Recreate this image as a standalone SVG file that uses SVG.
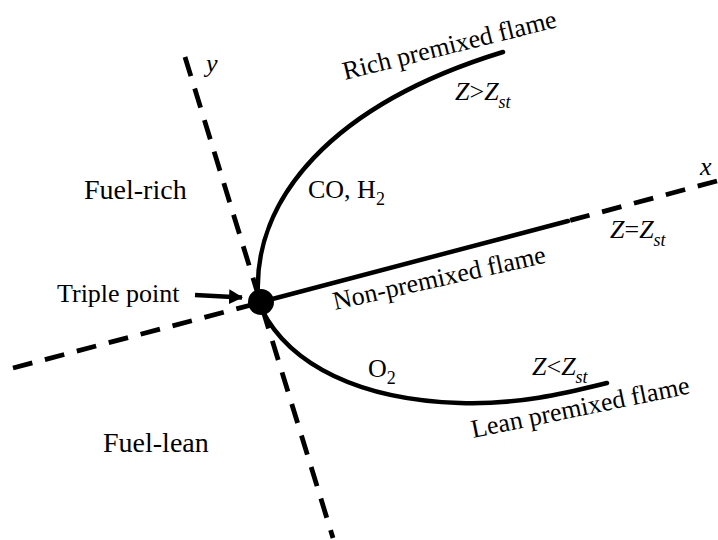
<svg xmlns="http://www.w3.org/2000/svg" width="718" height="540" viewBox="0 0 718 540">
<defs>
<style>
.t{font-family:"Liberation Serif","Times New Roman",serif;font-size:26px;fill:#000}
.big{font-size:28px}
.it{font-style:italic}
.sub{font-size:18px;font-style:italic}
.dash{fill:none;stroke:#000;stroke-width:4.8;stroke-dasharray:20 13}
.flame{fill:none;stroke:#000;stroke-width:4.5;stroke-linecap:round}
</style>
<marker id="ah" markerWidth="15" markerHeight="15" refX="13" refY="7.5" orient="auto" markerUnits="userSpaceOnUse">
<path d="M0,0 L14,7.5 L0,15 Z" fill="#000"/>
</marker>
</defs>
<rect width="718" height="540" fill="#fff"/>
<g id="connectors">
<line class="dash" x1="185" y1="57" x2="333" y2="538"/>
<line class="dash" x1="13" y1="368" x2="255" y2="304"/>
<line class="dash" x1="717" y1="181" x2="568" y2="221"/>
<line class="flame" x1="261" y1="302" x2="568" y2="221"/>
<path class="flame" d="M258 296 C253 200,330 105,503 52"/>
<path class="flame" d="M262 310 C290 365,360 400,460 403 C520 405,570 392,607 383"/>
<line x1="195" y1="295" x2="242" y2="297.5" stroke="#000" stroke-width="4.5" marker-end="url(#ah)"/>
</g>
<g id="triple-point">
<circle cx="261" cy="302" r="13" fill="#000"/>
<text class="t" x="57" y="302">Triple point</text>
</g>
<g id="axis-y"><text class="t it" x="206" y="72" font-size="24">y</text></g>
<g id="axis-x"><text class="t it" x="700" y="175" font-size="24">x</text></g>
<g id="fuel-rich"><text class="t big" x="84" y="199">Fuel-rich</text></g>
<g id="fuel-lean"><text class="t big" x="103" y="452">Fuel-lean</text></g>
<g id="rich-flame">
<text class="t" x="345" y="80" transform="rotate(-14 345 80)">Rich premixed flame</text>
<text class="t" x="455" y="100" font-size="27"><tspan class="it">Z</tspan>&gt;<tspan class="it">Z</tspan><tspan class="sub" dy="8">st</tspan></text>
<text class="t" x="308" y="198">CO, H<tspan font-size="18" dy="7">2</tspan></text>
</g>
<g id="nonpremixed-flame">
<text class="t" x="335" y="310" transform="rotate(-12.6 335 310)">Non-premixed flame</text>
<text class="t" x="610" y="238"><tspan class="it">Z</tspan>=<tspan class="it">Z</tspan><tspan class="sub" dy="8">st</tspan></text>
</g>
<g id="lean-flame">
<text class="t" x="473" y="438" transform="rotate(-11.6 473 438)">Lean premixed flame</text>
<text class="t" x="532" y="375" font-size="27"><tspan class="it">Z</tspan>&lt;<tspan class="it">Z</tspan><tspan class="sub" dy="8">st</tspan></text>
<text class="t" x="368" y="377">O<tspan font-size="18" dy="7">2</tspan></text>
</g>
</svg>
